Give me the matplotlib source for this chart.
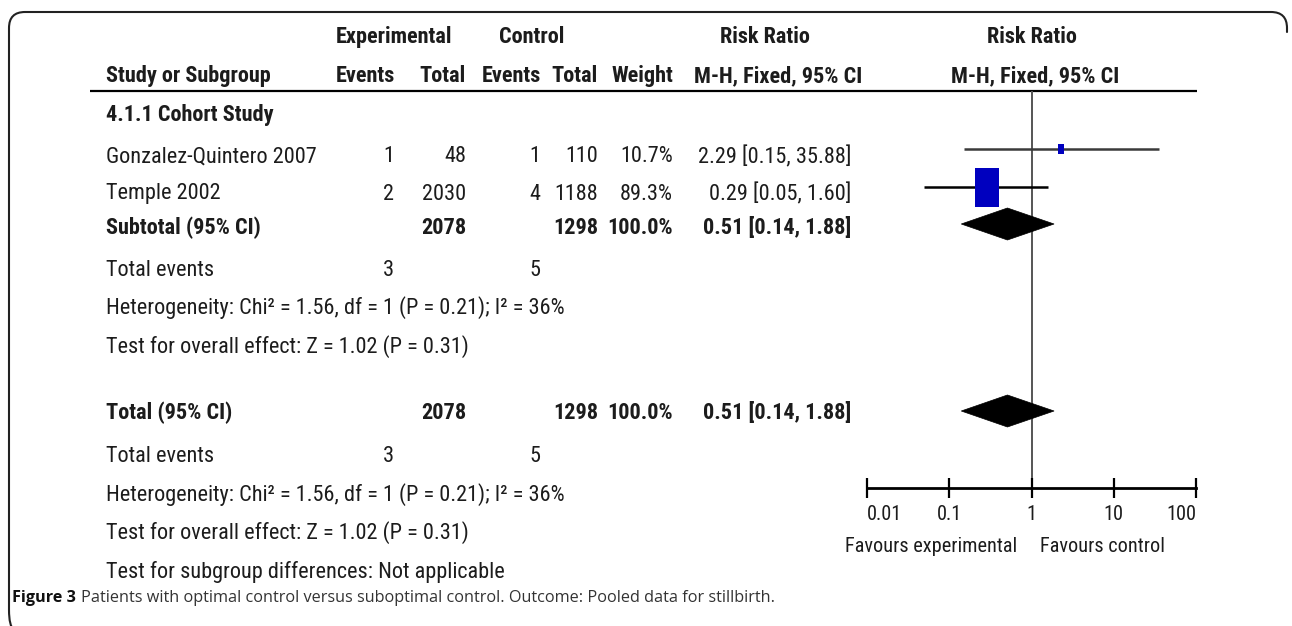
import matplotlib
matplotlib.use("Agg")
import matplotlib.pyplot as plt
import numpy as np
from matplotlib.path import Path
from matplotlib.patches import PathPatch, Polygon

# ---------------- data ----------------
studies = ["Gonzalez-Quintero 2007", "Temple 2002"]
exp_events = [1, 2]
exp_total = [48, 2030]
ctl_events = [1, 4]
ctl_total = [110, 1188]
weights = [10.7, 89.3]
rr = [2.29, 0.29]
rr_lo = [0.15, 0.05]
rr_hi = [35.88, 1.60]

subgroup_name = "4.1.1 Cohort Study"
sub_exp_total = 2078
sub_ctl_total = 1298
sub_weight = 100.0
sub_rr, sub_lo, sub_hi = 0.51, 0.14, 1.88
tot_exp_events, tot_ctl_events = 3, 5
het_text = "Heterogeneity: Chi² = 1.56, df = 1 (P = 0.21); I² = 36%"
eff_text = "Test for overall effect: Z = 1.02 (P = 0.31)"
subdiff_text = "Test for subgroup differences: Not applicable"

axis_ticks = [0.01, 0.1, 1, 10, 100]
axis_ticklabels = ["0.01", "0.1", "1", "10", "100"]
fav_left = "Favours experimental"
fav_right = "Favours control"
caption_bold = "Figure 3"
caption_text = "Patients with optimal control versus suboptimal control. Outcome: Pooled data for stillbirth."

# ---------------- figure ----------------
W, H = 1292, 626
fig = plt.figure(figsize=(W / 100, H / 100), dpi=100)
ov = fig.add_axes([0, 0, 1, 1])
ov.set_xlim(0, W)
ov.set_ylim(H, 0)
ov.axis("off")

FONT = ["Roboto Condensed", "DejaVu Sans"]
FS = 16
FS_AX = 14.6
TC = "#1c1c1c"

def t(x, y, s, ha="left", bold=False, fs=FS, **kw):
    return ov.text(x, y, s, ha=ha, va="center", fontsize=fs, family=FONT,
                   fontweight="bold" if bold else "normal", color=TC, **kw)

# frame
r = 16
verts = [(1287, 32), (1287, 12 + r), (1287, 12), (1287 - r, 12),
         (9 + r, 12), (9, 12), (9, 12 + r), (9, 626 - r), (9, 626), (9 + r * 0.3, 630)]
codes = [Path.MOVETO, Path.LINETO, Path.CURVE3, Path.CURVE3,
         Path.LINETO, Path.CURVE3, Path.CURVE3, Path.LINETO, Path.CURVE3, Path.CURVE3]
ov.add_patch(PathPatch(Path(verts, codes), fill=False, lw=1.5, edgecolor="#222222", capstyle="round"))

# header
y_h1, y_h2, y_line = 37, 76, 91
t(394, y_h1, "Experimental", ha="center", bold=True)
t(532, y_h1, "Control", ha="center", bold=True)
t(765, y_h1, "Risk Ratio", ha="center", bold=True)
t(1032, y_h1, "Risk Ratio", ha="center", bold=True)
t(106, y_h2, "Study or Subgroup", bold=True)
col_x = [395, 466, 541, 598, 673]
for x, s in zip(col_x, ["Events", "Total", "Events", "Total", "Weight"]):
    t(x, y_h2, s, ha="right", bold=True)
t(778, y_h2, "M-H, Fixed, 95% CI", ha="center", bold=True)
t(1035, y_h2, "M-H, Fixed, 95% CI", ha="center", bold=True)
ov.plot([90, 1197], [y_line, y_line], color="black", lw=1.6, solid_capstyle="butt")

# rows (text y positions)
y_sub = 115
y_studies = [157, 194]
y_subtotal = 228
y_te1, y_het1, y_eff1 = 271, 308, 347
y_total = 413
y_te2, y_het2, y_eff2, y_diff = 457, 495, 533, 572

num_x = [394, 466, 540, 598, 673]
rr_x = 851

t(106, y_sub, subgroup_name, bold=True)
for i, name in enumerate(studies):
    y = y_studies[i]
    t(106, y, name)
    vals = [exp_events[i], exp_total[i], ctl_events[i], ctl_total[i]]
    for x, v in zip(num_x[:4], vals):
        t(x, y, f"{v}", ha="right")
    t(num_x[4], y, f"{weights[i]:.1f}%", ha="right")
    t(rr_x, y, f"{rr[i]:.2f} [{rr_lo[i]:.2f}, {rr_hi[i]:.2f}]", ha="right")

for (ylab, label) in [(y_subtotal, "Subtotal (95% CI)"), (y_total, "Total (95% CI)")]:
    t(106, ylab, label, bold=True)
    t(num_x[1], ylab, f"{sub_exp_total}", ha="right", bold=True)
    t(num_x[3], ylab, f"{sub_ctl_total}", ha="right", bold=True)
    t(num_x[4], ylab, f"{sub_weight:.1f}%", ha="right", bold=True)
    t(rr_x, ylab, f"{sub_rr:.2f} [{sub_lo:.2f}, {sub_hi:.2f}]", ha="right", bold=True)

for (yte, yhet, yeff) in [(y_te1, y_het1, y_eff1), (y_te2, y_het2, y_eff2)]:
    t(106, yte, "Total events")
    t(num_x[0], yte, f"{tot_exp_events}", ha="right")
    t(num_x[2], yte, f"{tot_ctl_events}", ha="right")
    t(106, yhet, het_text)
    t(106, yeff, eff_text)
t(106, y_diff, subdiff_text)

# ---------------- forest axes ----------------
x0, x1 = 867, 1196
y_axis = 488
fa = fig.add_axes([x0 / W, 1 - y_axis / H, (x1 - x0) / W, (y_axis - y_line) / H])
fa.set_xscale("log")
fa.set_xlim(axis_ticks[0], axis_ticks[-1])
fa.set_ylim(y_axis, y_line)
fa.patch.set_alpha(0)
for s in ["top", "left", "right"]:
    fa.spines[s].set_visible(False)
fa.spines["bottom"].set_linewidth(2.0)
fa.set_yticks([])
fa.set_xticks(axis_ticks)
fa.set_xticklabels(axis_ticklabels, family=FONT, fontsize=FS_AX, color=TC)
fa.minorticks_off()
fa.tick_params(axis="x", direction="inout", length=14, width=1.6, pad=5)
tl = fa.get_xticklabels()
tl[0].set_horizontalalignment("left")
tl[-1].set_horizontalalignment("right")

fa.axvline(1, color="#555555", lw=1.4, zorder=1)

y_marks = [149, 187]
box_h = 39
for i in range(len(studies)):
    y = y_marks[i]
    fa.plot([rr_lo[i], rr_hi[i]], [y, y], color="#3a3a3a" if i == 0 else "black",
            lw=1.8, zorder=2, solid_capstyle="butt")
    scale = (weights[i] / max(weights)) ** 0.68
    hpx = box_h * scale
    marker = Path([(-0.32, -0.5), (0.32, -0.5), (0.32, 0.5), (-0.32, 0.5), (-0.32, -0.5)],
                  [Path.MOVETO, Path.LINETO, Path.LINETO, Path.LINETO, Path.CLOSEPOLY])
    fa.plot([rr[i]], [y], marker=marker, markersize=hpx * 0.72, color="#0000BF",
            markeredgewidth=0, zorder=3)

for yd in [224, 411]:
    fa.add_patch(Polygon([(sub_lo, yd), (sub_rr, yd - 16), (sub_hi, yd), (sub_rr, yd + 16)],
                         closed=True, facecolor="black", edgecolor="black", lw=0.5, zorder=4,
                         clip_on=False))

t(1017, 547, fav_left, ha="right", fs=FS_AX)
t(1040, 547, fav_right, ha="left", fs=FS_AX)

# caption
renderer = fig.canvas.get_renderer()
CAPF = ["Open Sans", "DejaVu Sans"]
cb = ov.text(12, 598, caption_bold, ha="left", va="center", fontsize=11.7,
             family=CAPF, fontweight="bold", color="#111111")
bb = cb.get_window_extent(renderer=renderer)
x_after = bb.x1 + 5
ov.text(x_after, H - (bb.y0 + bb.y1) / 2, caption_text, ha="left", va="center",
        fontsize=11.7, family=CAPF, color="#333333")

fig.savefig("out.png", dpi=100)
